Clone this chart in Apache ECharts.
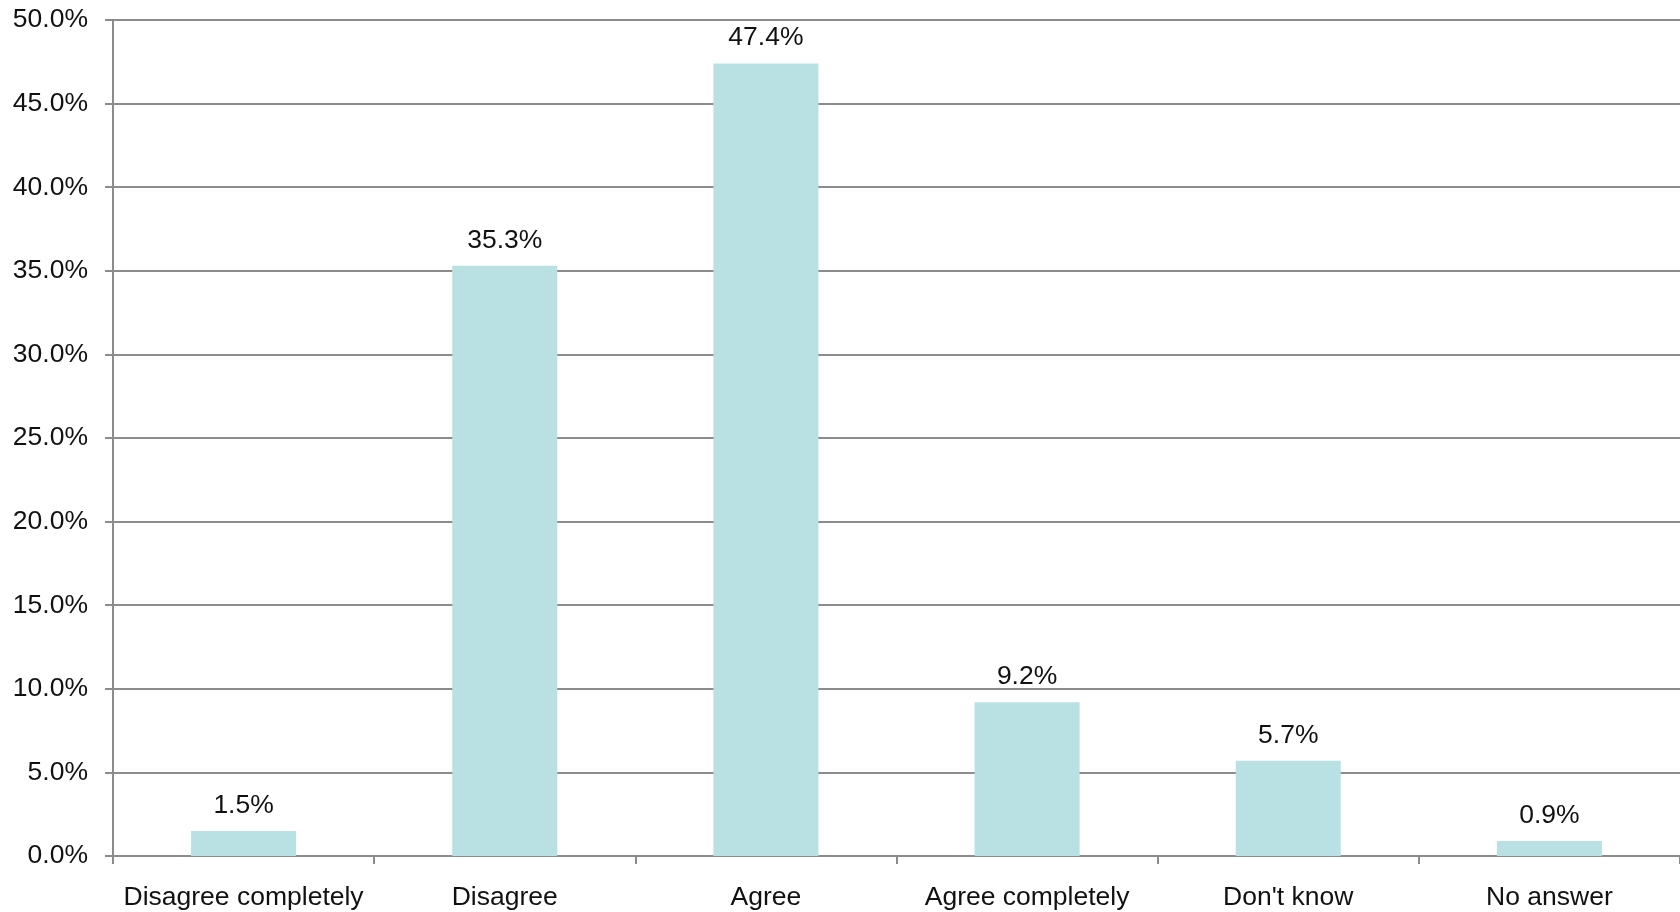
<!DOCTYPE html>
<html><head><meta charset="utf-8">
<script src="https://cdn.jsdelivr.net/npm/echarts@6/dist/echarts.min.js"></script>
<style>html,body{margin:0;padding:0;background:#fff}#c{width:1680px;height:912px}</style>
</head><body><div id="c"></div>
<script>
const categories = ["Disagree completely", "Disagree", "Agree", "Agree completely", "Don't know", "No answer"];
const values = [1.5, 35.3, 47.4, 9.2, 5.7, 0.9];
const yMin = 0, yMax = 50, yStep = 5;

const font = "'Liberation Sans', Arial, Helvetica, sans-serif";
const chart = echarts.init(document.getElementById('c'));
chart.setOption({
  animation: false,
  grid: { left: 113, right: 0, top: 20, bottom: 56, containLabel: false },
  xAxis: {
    type: 'category', data: categories,
    axisLine: { show: true, lineStyle: { color: '#8c8c8c', width: 2 } },
    axisTick: { show: true, alignWithLabel: false, length: 8, lineStyle: { color: '#8c8c8c', width: 2 } },
    axisLabel: { color: '#111', fontSize: 26.5, fontFamily: font, margin: 28, interval: 0 }
  },
  yAxis: {
    type: 'value', min: yMin, max: yMax, interval: yStep,
    axisLine: { show: true, lineStyle: { color: '#8c8c8c', width: 2 } },
    axisTick: { show: true, length: 8, lineStyle: { color: '#8c8c8c', width: 2 } },
    splitLine: { show: true, lineStyle: { color: '#8c8c8c', width: 2 } },
    axisLabel: { color: '#111', fontSize: 26.5, fontFamily: font, margin: 25, formatter: v => v.toFixed(1) + '%' }
  },
  series: [{
    type: 'bar', data: values, barWidth: 105,
    itemStyle: { color: '#b9e0e3' },
    label: { show: true, position: 'top', distance: 12, color: '#111', fontSize: 26.5, fontFamily: font, formatter: p => p.value.toFixed(1) + '%' }
  }]
});
</script></body></html>
